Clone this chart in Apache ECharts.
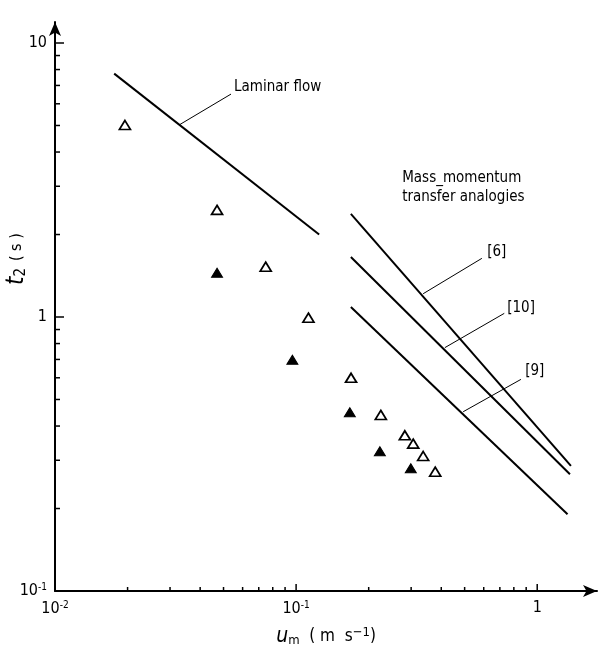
<!DOCTYPE html>
<html>
<head>
<meta charset="utf-8">
<script src="https://cdn.jsdelivr.net/npm/echarts@6/dist/echarts.min.js"></script>
<style>
  html, body { margin: 0; padding: 0; background: #fff; }
  #main { width: 604px; height: 648px; }
</style>
</head>
<body>
<div id="main"></div>
<script>
// 数据：值
let laminar = [[0.0176, 7.73], [0.1246, 2.0]];
let ref6 = [[0.1687, 2.38], [1.38, 0.286]];
let ref10 = [[0.1687, 1.655], [1.367, 0.2667]];
let ref9 = [[0.1687, 1.088], [1.336, 0.1905]];

// 空心三角
let openPts = [
    [0.0195, 5.02], [0.047, 2.46], [0.0748, 1.526], [0.1125, 0.994],
    [0.169, 0.600], [0.2246, 0.439], [0.2825, 0.370], [0.306, 0.345],
    [0.3365, 0.311], [0.3775, 0.2725]
];
// 实心三角
let filledPts = [
    [0.047, 1.451], [0.0965, 0.698], [0.167, 0.449], [0.2225, 0.3235], [0.299, 0.2805]
];

// 引线
let leaderLaminar = [[0.0327, 5.02], [0.0537, 6.51]];
let leader6 = [[0.3365, 1.216], [0.5895, 1.637]];
let leader10 = [[0.414, 0.773], [0.73, 1.031]];
let leader9 = [[0.493, 0.451], [0.856, 0.592]];

// 文字注释 [x, y, 文字]  (文字左端中点)
let notes = [
    [0.0553, 6.91, 'Laminar flow'],
    [0.620, 1.727, '[6]'],
    [0.751, 1.078, '[10]'],
    [0.891, 0.635, '[9]'],
    [0.2754, 2.97, 'Mass_momentum\ntransfer analogies']
];

// 刻度
let xMajor = [0.01, 0.1, 1];
let xMinor = [0.02, 0.03, 0.04, 0.05, 0.06, 0.07, 0.08, 0.09,
              0.2, 0.3, 0.4, 0.5, 0.6, 0.7, 0.8, 0.9];
let yMajor = [0.1, 1, 10];
let yMinor = [0.2, 0.3, 0.4, 0.5, 0.6, 0.7, 0.8, 0.9,
              2, 3, 4, 5, 6, 7, 8, 9];

let xMin = 0.01, xMax = 1.77;
let yMin = 0.1, yMax = 11.93;

let FONT = 'DejaVu Sans Condensed';

function powLabel(v) {
    let l = Math.log10(v);
    let e = Math.round(l);
    if (Math.abs(l - e) > 1e-6) return '';
    if (e === 0) return '1';
    if (e === 1) return '10';
    return '{b|10}{s|' + e + '}';
}

let richPow = {
    b: { fontFamily: FONT, fontSize: 16, color: '#000' },
    s: { fontFamily: FONT, fontSize: 10, color: '#000', verticalAlign: 'top', padding: [0, 0, 8, 0] }
};

function lineSeries(data, w) {
    return {
        type: 'line',
        data: data,
        symbol: 'none',
        silent: true,
        lineStyle: { color: '#000', width: w },
        z: 3
    };
}

let myChart = echarts.init(document.getElementById('main'));

let option = {
    backgroundColor: '#fff',
    animation: false,
    grid: { left: 55, right: 7, top: 22, bottom: 57, outerBoundsMode: 'none', containLabel: false },
    xAxis: {
        type: 'log',
        logBase: 10,
        min: xMin,
        max: xMax,
        splitLine: { show: false },
        axisTick: { show: false },
        axisLine: {
            show: true,
            symbol: ['none', 'arrow'],
            symbolSize: [9, 14],
            lineStyle: { color: '#000', width: 2 }
        },
        axisLabel: {
            margin: 9,
            showMaxLabel: false,
            formatter: powLabel,
            fontFamily: FONT,
            fontSize: 16,
            color: '#000',
            rich: richPow
        },
        name: '{i|u}{sub|m}  {n|( m  s}{sup|\u22121}{n|)}',
        nameLocation: 'middle',
        nameGap: 35,
        nameTextStyle: {
            fontFamily: FONT,
            fontSize: 17,
            color: '#000',
            rich: {
                i: { fontFamily: FONT, fontSize: 21, fontStyle: 'italic', color: '#000' },
                n: { fontFamily: FONT, fontSize: 17, color: '#000' },
                sub: { fontFamily: FONT, fontSize: 13, color: '#000', verticalAlign: 'bottom', padding: [7, 0, 0, 0] },
                sup: { fontFamily: FONT, fontSize: 13, color: '#000', verticalAlign: 'top', padding: [0, 0, 7, 0] }
            }
        }
    },
    yAxis: {
        type: 'log',
        logBase: 10,
        min: yMin,
        max: yMax,
        splitLine: { show: false },
        axisTick: { show: false },
        axisLine: {
            show: true,
            symbol: ['none', 'arrow'],
            symbolSize: [9, 14],
            lineStyle: { color: '#000', width: 2 }
        },
        axisLabel: {
            margin: 8,
            showMaxLabel: false,
            formatter: powLabel,
            fontFamily: FONT,
            fontSize: 16,
            color: '#000',
            rich: richPow
        }
    },
    graphic: [{
        type: 'text',
        x: 5,
        y: 285,
        rotation: Math.PI / 2,
        originX: 0,
        originY: 0,
        style: {
            text: '{i|t}{sub|2}  {n|( s )}',
            fontFamily: FONT,
            fill: '#000',
            rich: {
                i: { fontFamily: FONT, fontSize: 24, fontStyle: 'italic', fill: '#000' },
                sub: { fontFamily: FONT, fontSize: 15, fill: '#000', verticalAlign: 'bottom', padding: [8, 0, 0, 0] },
                n: { fontFamily: FONT, fontSize: 16, fill: '#000' }
            }
        }
    }],
    series: [
        lineSeries(laminar, 2),
        lineSeries(ref6, 2),
        lineSeries(ref10, 2),
        lineSeries(ref9, 2),
        lineSeries(leaderLaminar, 1),
        lineSeries(leader6, 1),
        lineSeries(leader10, 1),
        lineSeries(leader9, 1),
        {
            type: 'scatter',
            data: openPts,
            symbol: 'triangle',
            symbolSize: [11, 9],
            itemStyle: { color: '#fff', borderColor: '#000', borderWidth: 1.7, opacity: 1 },
            z: 4
        },
        {
            type: 'scatter',
            data: filledPts,
            symbol: 'triangle',
            symbolSize: [11, 9],
            itemStyle: { color: '#000', borderColor: '#000', borderWidth: 1, opacity: 1 },
            z: 4
        },
        {
            type: 'scatter',
            data: notes,
            symbolSize: 0,
            silent: true,
            itemStyle: { opacity: 1, color: '#000' },
            label: {
                show: true,
                position: 'right',
                distance: 0,
                formatter: function (p) { return p.data[2]; },
                fontFamily: FONT,
                fontSize: 15,
                lineHeight: 19,
                color: '#000',
                opacity: 1
            },
            z: 5
        },
        {
            // x 轴刻度
            type: 'custom',
            data: xMinor.map(v => [v, yMin]).concat(xMajor.map(v => [v, yMin])),
            silent: true,
            clip: false,
            renderItem: function (params, api) {
                let v = api.value(0);
                let p = api.coord([v, yMin]);
                let len = xMajor.indexOf(v) >= 0 ? 7 : 4;
                return {
                    type: 'line',
                    shape: { x1: p[0], y1: p[1], x2: p[0], y2: p[1] - len },
                    style: { stroke: '#000', lineWidth: 1.5 }
                };
            },
            z: 2
        },
        {
            // y 轴刻度
            type: 'custom',
            data: yMinor.map(v => [xMin, v]).concat(yMajor.map(v => [xMin, v])),
            silent: true,
            clip: false,
            renderItem: function (params, api) {
                let v = api.value(1);
                let p = api.coord([xMin, v]);
                let len = yMajor.indexOf(v) >= 0 ? 9 : 5;
                return {
                    type: 'line',
                    shape: { x1: p[0], y1: p[1], x2: p[0] + len, y2: p[1] },
                    style: { stroke: '#000', lineWidth: 1.5 }
                };
            },
            z: 2
        }
    ]
};

myChart.setOption(option);
</script>
</body>
</html>
